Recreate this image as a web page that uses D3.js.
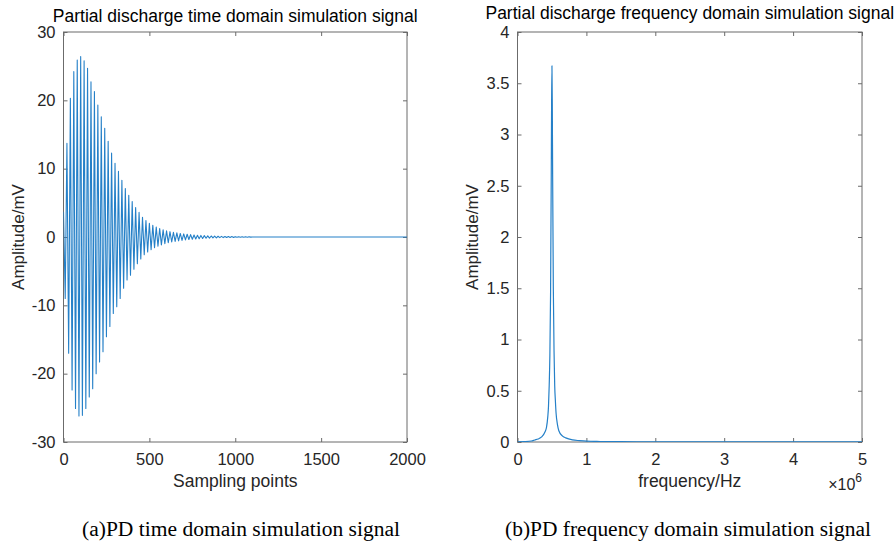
<!DOCTYPE html>
<html>
<head>
<meta charset="utf-8">
<script src="https://cdn.jsdelivr.net/npm/d3@7/dist/d3.min.js"></script>
<style>
  html, body { margin: 0; padding: 0; background: #fff; }
  svg { display: block; }
</style>
</head>
<body>
<svg id="chart" width="895" height="542"></svg>
<script>
// ---------------- DATA ----------------
// (a) time domain: successive positive / negative oscillation peaks (mV), one pair per cycle
const samplesPerCycle = 20;            // 0.5 MHz oscillation sampled at 10 MHz
const timeTotalSamples = 2000;
const timePosPeaks = [3.7, 13.7, 20.3, 24.2, 25.9, 26.4, 25.8, 24.7, 22.7, 21.3,
  19.3, 17.6, 15.9, 14.0, 12.3, 10.8, 9.6, 8.3, 7.1, 6.1,
  5.2, 4.3, 3.6, 2.9, 2.4, 2.0, 1.7, 1.45, 1.25, 1.05,
  0.9, 0.78, 0.68, 0.6, 0.52, 0.45, 0.4, 0.35, 0.3, 0.26,
  0.23, 0.2, 0.17, 0.15, 0.13, 0.11, 0.09, 0.08, 0.07, 0.06,
  0.05, 0.04, 0.035, 0.03, 0.025];
const timeNegPeaks = [-9.0, -17.0, -22.4, -25.1, -26.2, -26.1, -25.1, -23.4, -22.2, -20.0,
  -18.3, -16.8, -14.6, -13.1, -11.2, -10.2, -9.0, -7.5, -6.3, -5.6,
  -4.7, -3.9, -3.2, -2.6, -2.2, -1.85, -1.55, -1.35, -1.15, -0.97,
  -0.84, -0.73, -0.64, -0.56, -0.49, -0.43, -0.37, -0.33, -0.28, -0.25,
  -0.21, -0.18, -0.16, -0.14, -0.12, -0.1, -0.085, -0.075, -0.065, -0.055,
  -0.045, -0.038, -0.032, -0.027, -0.022];

// (b) frequency domain spectrum: frequency (MHz) and amplitude (mV)
const freqMHz = [0, 0.1, 0.2, 0.25, 0.3, 0.35, 0.4, 0.42, 0.44, 0.45, 0.46, 0.47, 0.48,
  0.49, 0.495, 0.5, 0.505, 0.51, 0.52, 0.53, 0.54, 0.55, 0.56, 0.58, 0.6, 0.65, 0.7,
  0.8, 0.9, 1.0, 1.2, 1.5, 2.0, 3.0, 4.0, 5.0];
const freqAmp = [0.002, 0.004, 0.01, 0.02, 0.03, 0.05, 0.1, 0.14, 0.25, 0.35, 0.55, 0.85, 1.45,
  2.6, 3.3, 3.67, 3.3, 2.6, 1.5, 0.9, 0.55, 0.4, 0.28, 0.17, 0.11, 0.06, 0.04,
  0.02, 0.013, 0.008, 0.005, 0.003, 0.002, 0.001, 0.001, 0.001];

// Axis ticks / labels
const timeXTicks = [0, 500, 1000, 1500, 2000];
const timeYTicks = [-30, -20, -10, 0, 10, 20, 30];
const freqXTicks = [0, 1, 2, 3, 4, 5];
const freqYTicks = [0, 0.5, 1, 1.5, 2, 2.5, 3, 3.5, 4];

const titleA = "Partial discharge time domain simulation signal";
const titleB = "Partial discharge frequency domain simulation signal";
const xLabelA = "Sampling points";
const xLabelB = "frequency/Hz";
const yLabel = "Amplitude/mV";
const captionA = "(a)PD time domain simulation signal";
const captionB = "(b)PD frequency domain simulation signal";

// ---------------- DRAWING ----------------
const svg = d3.select("#chart");
const sans = "'Liberation Sans', Arial, Helvetica, sans-serif";
const serif = "'Liberation Serif', 'Times New Roman', Times, serif";
const lineColor = "#2580c8";
const axisColor = "#6b6b6b";
const textColor = "#262626";
const plainFmt = d => String(d);   // ASCII hyphen for negatives, like the reference

function panel(opt) {
  const { x0, x1, y0, y1, xDomain, yDomain, xTicks, yTicks, id } = opt;
  const x = d3.scaleLinear().domain(xDomain).range([x0, x1]);
  const y = d3.scaleLinear().domain(yDomain).range([y1, y0]);
  const g = svg.append("g");

  g.append("clipPath").attr("id", id).append("rect")
    .attr("x", x0).attr("y", y0).attr("width", x1 - x0).attr("height", y1 - y0);

  const styleAxis = sel => {
    sel.selectAll("path.domain").remove();
    sel.selectAll("line").attr("stroke", axisColor).attr("stroke-width", 1);
    sel.selectAll("text").attr("fill", textColor).style("font-family", sans).style("font-size", "16.5px");
  };

  g.append("g").attr("transform", `translate(0,${y1})`)
    .call(d3.axisBottom(x).tickValues(xTicks).tickSizeInner(-4).tickSizeOuter(0).tickPadding(11.5).tickFormat(plainFmt))
    .call(styleAxis);
  g.append("g").attr("transform", `translate(0,${y0})`)
    .call(d3.axisTop(x).tickValues(xTicks).tickSizeInner(-4).tickSizeOuter(0).tickFormat(""))
    .call(styleAxis);
  const yAxisG = g.append("g").attr("transform", `translate(${x0},0)`)
    .call(d3.axisLeft(y).tickValues(yTicks).tickSizeInner(-4).tickSizeOuter(0).tickPadding(8).tickFormat(plainFmt))
    .call(styleAxis);
  g.append("g").attr("transform", `translate(${x1},0)`)
    .call(d3.axisRight(y).tickValues(yTicks).tickSizeInner(-4).tickSizeOuter(0).tickFormat(""))
    .call(styleAxis);

  g.append("rect").attr("x", x0).attr("y", y0).attr("width", x1 - x0).attr("height", y1 - y0)
    .attr("fill", "none").attr("stroke", axisColor).attr("stroke-width", 1);

  return { g, x, y, yAxisG };
}

// ----- Panel (a): time domain -----
const A = panel({ id: "clipA", x0: 63.5, x1: 407, y0: 32, y1: 442,
  xDomain: [0, timeTotalSamples], yDomain: [-30, 30], xTicks: timeXTicks, yTicks: timeYTicks });

const timePts = [];
timePosPeaks.forEach((v, k) => {
  timePts.push([k * samplesPerCycle, v]);
  if (k < timeNegPeaks.length) timePts.push([k * samplesPerCycle + samplesPerCycle / 2, timeNegPeaks[k]]);
});
timePts.push([timePosPeaks.length * samplesPerCycle, 0]);
timePts.push([timeTotalSamples, 0]);

A.g.append("path").datum(timePts)
  .attr("clip-path", "url(#clipA)")
  .attr("fill", "none").attr("stroke", lineColor).attr("stroke-width", 1.1)
  .attr("stroke-linejoin", "round")
  .attr("d", d3.line().x(d => A.x(d[0])).y(d => A.y(d[1])));

// ----- Panel (b): frequency domain -----
const B = panel({ id: "clipB", x0: 517.5, x1: 862, y0: 32, y1: 442,
  xDomain: [0, 5], yDomain: [0, 4], xTicks: freqXTicks, yTicks: freqYTicks });

// keep the top "4" label just clear of the title above it
B.yAxisG.selectAll(".tick").filter(d => d === 4).select("text").attr("dy", "0.36em");

B.g.append("path").datum(freqMHz.map((f, i) => [f, freqAmp[i]]))
  .attr("clip-path", "url(#clipB)")
  .attr("fill", "none").attr("stroke", lineColor).attr("stroke-width", 1.2)
  .attr("stroke-linejoin", "round")
  .attr("d", d3.line().x(d => B.x(d[0])).y(d => B.y(d[1])).curve(d3.curveMonotoneX));

// ----- Texts -----
function txt(x, y, s, size, family, anchor, extra) {
  const t = svg.append("text").attr("x", x).attr("y", y).text(s)
    .attr("fill", (extra && extra.fill) || textColor)
    .style("font-family", family).style("font-size", size + "px")
    .attr("text-anchor", anchor || "middle");
  if (extra && extra.rotate) t.attr("transform", `rotate(-90,${x},${y})`);
  if (extra && extra.len) t.attr("textLength", extra.len).attr("lengthAdjust", "spacingAndGlyphs");
  return t;
}

txt((63.5 + 407) / 2, 22, titleA, 17.5, sans, "middle", { fill: "#000" });
txt((517.5 + 862) / 2, 19, titleB, 17.5, sans, "middle", { fill: "#000" });

txt((63.5 + 407) / 2, 486.5, xLabelA, 17.5, sans);
txt((517.5 + 862) / 2, 486.5, xLabelB, 17.5, sans);

txt(24, 237, yLabel, 17, sans, "middle", { rotate: true });
txt(478, 237, yLabel, 17, sans, "middle", { rotate: true });

// x10^6 exponent label
const expo = svg.append("text").attr("x", 862).attr("y", 490).attr("text-anchor", "end")
  .attr("fill", textColor).style("font-family", sans).style("font-size", "16px");
expo.append("tspan").text("\u00d710");
expo.append("tspan").attr("dy", -8).style("font-size", "12px").text("6");

// captions
txt(241, 536, captionA, 20.5, serif, "middle", { fill: "#000", len: 318 });
txt(688, 536, captionB, 20.5, serif, "middle", { fill: "#000", len: 366 });
</script>
</body>
</html>
